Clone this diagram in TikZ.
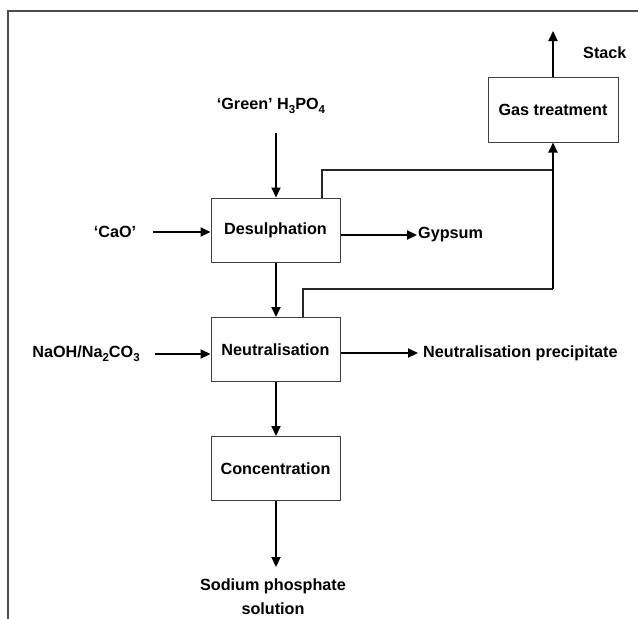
\documentclass[tikz,border=0pt]{standalone}
\usepackage{fontspec}
\setmainfont{Liberation Sans}
\usetikzlibrary{arrows.meta}
\newcommand{\sbs}[1]{\raisebox{-0.45ex}{\fontsize{11.5}{11.5}\selectfont #1}}
\begin{document}
\begin{tikzpicture}[x=1pt,y=-1pt,
  font=\fontsize{16.2}{24}\selectfont\bfseries,
  procbox/.style={draw=black!75,line width=1pt,minimum width=129pt,minimum height=64pt,inner sep=0pt},
  lbl/.style={inner sep=0pt},
  flow/.style={line width=2.2pt,-{Triangle[length=10pt,width=9pt]}},
  thin/.style={line width=1.2pt,draw=black!85}]
\useasboundingbox (0,0) rectangle (638,619);
\draw[line width=1.5pt,black!70] (8,619) -- (8,11) -- (638,11);

\node[procbox] (des) at (275.5,230) {Desulphation};
\node[procbox] (neu) at (275.5,349.5) {Neutralisation};
\node[procbox] (con) at (275.5,468.5) {Concentration};
\node[procbox,minimum width=130pt,minimum height=65pt] (gas) at (553,109.5) {Gas treatment};

\node[lbl] (h3po4) at (271,106) {‘Green’ H\sbs{3}PO\sbs{4}};
\node[lbl] (cao) at (115,232) {‘CaO’};
\node[lbl] (naoh) at (86,354) {NaOH/Na\sbs{2}CO\sbs{3}};
\node[lbl,anchor=west] (gyp) at (418,235) {Gypsum};
\node[lbl,anchor=west] (prec) at (423,353) {Neutralisation precipitate};
\node[lbl,anchor=west] (stack) at (583,53) {Stack};
\node[lbl,align=center] (sod) at (273,597) {Sodium phosphate\\solution};

\coordinate (h3in) at (276,133);
\coordinate (caoin) at (153,232);
\coordinate (naohin) at (155,354);
\coordinate (gypend) at (417,235);
\coordinate (precend) at (418,353);
\coordinate (stackend) at (553,31);
\coordinate (prodend) at (276,567);
\coordinate (j1) at (322,170);
\coordinate (j2) at (303,289);
\coordinate (jr1) at (553,170);
\coordinate (jr2) at (553,289);

\draw[flow] (h3in) -- (des.north -| h3in);
\draw[flow] (caoin) -- (des.west |- caoin);
\draw[flow] (naohin) -- (neu.west |- naohin);
\draw[flow] (des.east |- gypend) -- (gypend);
\draw[flow] (neu.east |- precend) -- (precend);
\draw[flow] (des.south -| h3in) -- (neu.north -| h3in);
\draw[flow] (neu.south -| h3in) -- (con.north -| h3in);
\draw[flow] (con.south -| h3in) -- (prodend);
\draw[flow] (gas.north) -- (stackend);
\draw[thin] (des.north -| j1) -- (j1) -- (jr1);
\draw[thin] (neu.north -| j2) -- (j2) -- (jr2);
\draw[flow] (jr2) -- (gas.south);
\end{tikzpicture}
\end{document}
